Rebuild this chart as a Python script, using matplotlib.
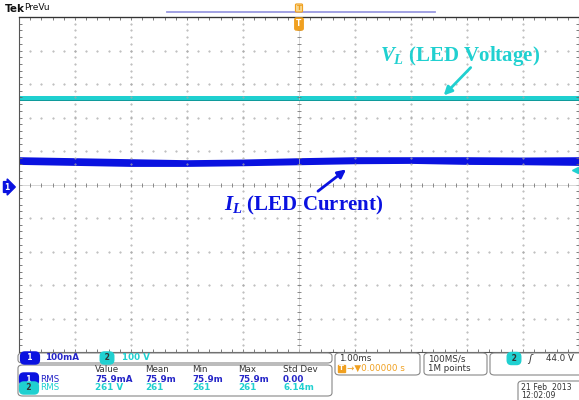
import matplotlib
matplotlib.use('Agg')
from matplotlib import rcParams
rcParams['font.family'] = 'DejaVu Sans'
rcParams['mathtext.fontset'] = 'custom'
rcParams['mathtext.it'] = 'Liberation Serif:italic:bold'
rcParams['mathtext.rm'] = 'Liberation Serif:bold'
import matplotlib.pyplot as plt
import numpy as np
from matplotlib.patches import FancyBboxPatch
from matplotlib.lines import Line2D

# time axis (ms), 1 ms/div, centre = 0
t_ms = [-5, -4, -3, -2, -1, 0, 1, 2, 3, 4, 5]
# LED current band (mA), ch1 100 mA/div
i_top = [90, 87, 84, 81, 83, 87, 90, 90, 90, 89, 90]
i_bot = [67, 64, 61, 61, 63, 66, 69, 70, 67, 66, 64]
# LED voltage band (V), ch2 100 V/div
v_top = [263, 263, 263, 263, 263, 263, 263, 263, 263, 263, 263]
v_bot = [248, 248, 248, 248, 248, 248, 248, 248, 248, 248, 248]

ch1_scale = 100.0   # mA/div
ch2_scale = 100.0   # V/div
ch1_offset = -0.07  # div
ch2_offset = 0.0
trig_level = 44.0   # V on ch2

meas_head = ['Value', 'Mean', 'Min', 'Max', 'Std Dev']
meas_ch1 = ['75.9mA', '75.9m', '75.9m', '75.9m', '0.00']
meas_ch2 = ['261 V', '261', '261', '261', '6.14m']

BLUE = '#0a12e0'
BLUE_TXT = '#2626c8'
CYAN = '#20d0d0'
CYAN_D = '#109a9a'
ORANGE = '#f0a020'
GRAY = '#a8a8a8'
DARK = '#333333'

W, H = 579, 400
fig = plt.figure(figsize=(W / 100, H / 100), dpi=100)


def fx(x):
    return x / W


def fy(y):
    return 1 - y / H


ax = fig.add_axes([fx(19), fy(352), (W - 19) / W, 335 / H])
ax.set_xlim(-5, 5)
ax.set_ylim(-5, 5)
ax.set_facecolor('white')

# graticule dots
minor = np.arange(-5, 5.001, 0.2)
for g in range(-4, 5):
    if g == 0:
        continue
    ax.plot([g] * len(minor), minor, ls='none', marker='.', ms=0.9, color=GRAY)
    ax.plot(minor, [g] * len(minor), ls='none', marker='.', ms=0.9, color=GRAY)
ax.axvline(0, color='#c8c8c8', lw=0.5)
ax.axhline(0, color='#c8c8c8', lw=0.5)
ax.plot([0] * len(minor), minor, ls='none', marker='_', ms=3.5, mew=0.6, color='#777777')
ax.plot(minor, [0] * len(minor), ls='none', marker='|', ms=3.5, mew=0.6, color='#777777')

for s in ax.spines.values():
    s.set_color('#555555')
    s.set_linewidth(0.8)
ax.set_xticks(range(-5, 6))
ax.set_yticks(range(-5, 6))
ax.set_xticks(minor, minor=True)
ax.set_yticks(minor, minor=True)
ax.tick_params(which='both', direction='in', top=True, right=True, labelleft=False,
               labelbottom=False, color='#666666', length=2.5, width=0.6)

# traces
v_t = np.array(v_top) / ch2_scale + ch2_offset
v_b = np.array(v_bot) / ch2_scale + ch2_offset
ax.fill_between(t_ms, v_b, v_t, color=CYAN, lw=0)
ax.plot(t_ms, (v_t + v_b) / 2 - 0.02, color=CYAN_D, lw=0.7)

i_t = np.array(i_top) / ch1_scale + ch1_offset
i_b = np.array(i_bot) / ch1_scale + ch1_offset
ax.fill_between(t_ms, i_b, i_t, color=BLUE, lw=0)

# trigger level marker
ax.plot([4.93], [trig_level / ch2_scale + ch2_offset], marker='<', ms=5, color=CYAN, clip_on=False)

# annotations
ax.annotate('', xy=(2.55, 2.6), xytext=(3.1, 3.55),
            arrowprops=dict(arrowstyle='-|>', color=CYAN, lw=2, mutation_scale=12))
fig.text(fx(380), fy(56), r'$\mathit{V}_{\mathit{L}}$ (LED Voltage)', color=CYAN, fontsize=15,
         family='Liberation Serif', weight='bold', va='center')
ax.annotate('', xy=(0.88, 0.5), xytext=(0.3, -0.25),
            arrowprops=dict(arrowstyle='-|>', color=BLUE, lw=2, mutation_scale=12))
fig.text(fx(224), fy(205), r'$\mathit{I}_{\mathit{L}}$ (LED Current)', color=BLUE, fontsize=15,
         family='Liberation Serif', weight='bold', va='center')

# top bar
fig.text(fx(5), fy(9), 'Tek', fontsize=7.5, weight='bold', color='#111111', va='center')
fig.text(fx(24), fy(8), 'PreVu', fontsize=6.5, color='#111111', va='center')
fig.add_artist(Line2D([fx(167), fx(435)], [fy(12), fy(12)], color='#9a9ae0', lw=1.3))
fig.add_artist(Line2D([fx(19), fx(579)], [fy(16.5), fy(16.5)], color='#333333', lw=0.9))
fig.text(fx(299), fy(8), 'T', fontsize=5, color=ORANGE, ha='center', va='center', weight='bold',
         bbox=dict(boxstyle='round,pad=0.15', fc='#f8d890', ec=ORANGE, lw=0.8))
fig.text(fx(299), fy(24), 'T', fontsize=5.5, color='white', ha='center', va='center', weight='bold',
         bbox=dict(boxstyle='round,pad=0.2', fc=ORANGE, ec=ORANGE))

# channel 1 ground marker
fig.text(fx(7), fy(187), '1', fontsize=5.5, color='white', ha='center', va='center', weight='bold',
         bbox=dict(boxstyle='rarrow,pad=0.12', fc=BLUE, ec=BLUE))


def box(x0, y0, x1, y1):
    fig.add_artist(FancyBboxPatch((fx(x0), fy(y1)), fx(x1 - x0), (y1 - y0) / H,
                                  boxstyle='round,pad=0,rounding_size=0.008',
                                  fc='white', ec='#888888', lw=0.8))


def pill(x, y, txt, c):
    fig.text(fx(x), fy(y), txt, fontsize=5.5, color='white' if c == BLUE else DARK, ha='center',
             va='center', weight='bold',
             bbox=dict(boxstyle='round,pad=0.2,rounding_size=0.55', fc=c, ec=c))


fs = 6.3
box(18, 353, 332, 363)
pill(30, 358, '  1  ', BLUE)
fig.text(fx(45), fy(358), '100mA', fontsize=fs, color=BLUE_TXT, va='center', weight='bold')
pill(107, 358, ' 2 ', CYAN)
fig.text(fx(122), fy(358), '100 V', fontsize=fs, color=CYAN, va='center', weight='bold')

box(18, 365, 332, 396)
col_x = [95, 145, 192, 238, 283]
for cx, h, a, b in zip(col_x, meas_head, meas_ch1, meas_ch2):
    fig.text(fx(cx), fy(370), h, fontsize=fs, color=DARK, va='center')
    fig.text(fx(cx), fy(379), a, fontsize=fs, color=BLUE_TXT, va='center', weight='bold')
    fig.text(fx(cx), fy(388), b, fontsize=fs, color=CYAN, va='center', weight='bold')
pill(29, 379, '  1  ', BLUE)
fig.text(fx(40), fy(379), 'RMS', fontsize=fs, color=BLUE_TXT, va='center')
pill(29, 388, '  2  ', CYAN)
fig.text(fx(40), fy(388), 'RMS', fontsize=fs, color=CYAN, va='center')

box(335, 353, 420, 375)
fig.text(fx(339), fy(358.5), '1.00ms', fontsize=fs, color=DARK, va='center')
fig.text(fx(339), fy(368.5), 'T', fontsize=5, color='white', va='center', weight='bold',
         bbox=dict(boxstyle='square,pad=0.1', fc=ORANGE, ec=ORANGE))
fig.text(fx(347), fy(368.5), '\u2192\u25bc0.00000 s', fontsize=fs, color=ORANGE, va='center')

box(424, 353, 487, 375)
fig.text(fx(428), fy(358.5), '100MS/s', fontsize=fs, color=DARK, va='center')
fig.text(fx(428), fy(368.5), '1M points', fontsize=fs, color=DARK, va='center')

box(490, 353, 585, 375)
pill(514, 358.5, ' 2 ', CYAN)
fig.text(fx(528), fy(358.5), '\u0283', fontsize=fs + 1, color=DARK, va='center', style='italic')
fig.text(fx(546), fy(358.5), '%.1f V' % trig_level, fontsize=fs, color=DARK, va='center')

box(518, 381, 585, 405)
fig.text(fx(521), fy(382.5), '21 Feb  2013\n12:02:09', fontsize=5.6, color=DARK, va='top',
         linespacing=0.9)

fig.savefig('out.png', dpi=100, facecolor='white')
